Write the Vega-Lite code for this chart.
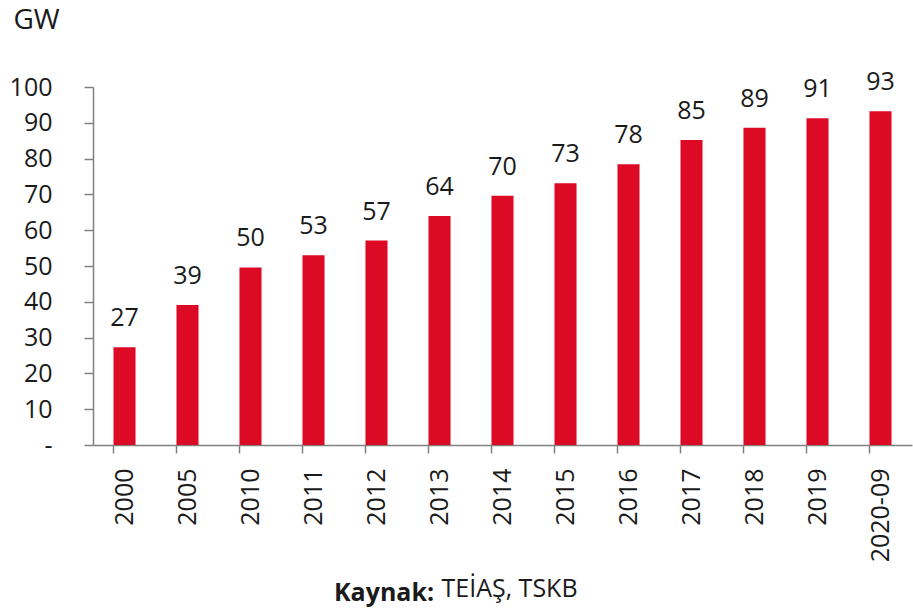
{
  "$schema": "https://vega.github.io/schema/vega-lite/v6.json",
  "width": 819,
  "height": 358,
  "autosize": "none",
  "padding": {"left": 93, "top": 87, "right": 1, "bottom": 167},
  "background": "white",
  "config": {
    "view": {"stroke": null},
    "font": "Open Sans",
    "text": {"font": "Open Sans"}
  },
  "title": {
    "text": "Kaynak:",
    "orient": "bottom",
    "anchor": "start",
    "frame": "group",
    "fontWeight": "bold",
    "font": "Open Sans",
    "fontSize": 25,
    "color": "#1a1a1a",
    "dx": 241,
    "dy": -20,
    "offset": 0
  },
  "data": {
    "values": [
      {"year": "2000", "gw": 27.3},
      {"year": "2005", "gw": 39.1},
      {"year": "2010", "gw": 49.6},
      {"year": "2011", "gw": 53.0},
      {"year": "2012", "gw": 57.1},
      {"year": "2013", "gw": 64.0},
      {"year": "2014", "gw": 69.6},
      {"year": "2015", "gw": 73.1},
      {"year": "2016", "gw": 78.4},
      {"year": "2017", "gw": 85.2},
      {"year": "2018", "gw": 88.6},
      {"year": "2019", "gw": 91.3},
      {"year": "2020-09", "gw": 93.2}
    ]
  },
  "encoding": {
    "x": {
      "field": "year",
      "type": "ordinal",
      "sort": null,
      "scale": {"paddingInner": 0.65, "paddingOuter": 0.325},
      "axis": {
        "title": "TEİAŞ, TSKB",
        "titleFont": "Open Sans",
        "titleFontSize": 25,
        "titleFontWeight": "normal",
        "titleColor": "#1a1a1a",
        "titleX": 348,
        "titleY": 151,
        "titleAlign": "left",
        "titleBaseline": "alphabetic",
        "labelAngle": -90,
        "labelFont": "Open Sans",
        "labelFontSize": 25,
        "labelColor": "#1a1a1a",
        "labelPadding": 15,
        "bandPosition": 0,
        "tickSize": 8,
        "tickColor": "#808080",
        "domainColor": "#808080",
        "domainWidth": 1.5,
        "tickWidth": 1.5
      }
    },
    "y": {
      "field": "gw",
      "type": "quantitative",
      "scale": {"domain": [0, 100]},
      "axis": {
        "values": [0, 10, 20, 30, 40, 50, 60, 70, 80, 90, 100],
        "labelExpr": "datum.value === 0 ? '-\u00a0\u00a0\u00a0\u00a0' : datum.label",
        "grid": false,
        "title": "GW",
        "titleAngle": 0,
        "titleX": -80,
        "titleY": -59,
        "titleAlign": "left",
        "titleBaseline": "alphabetic",
        "titleFont": "Open Sans",
        "titleFontSize": 28,
        "titleFontWeight": "normal",
        "titleColor": "#1a1a1a",
        "labelFont": "Open Sans",
        "labelFontSize": 25,
        "labelColor": "#1a1a1a",
        "labelPadding": 32,
        "tickSize": 9,
        "tickColor": "#808080",
        "domainColor": "#808080",
        "domainWidth": 1.5,
        "tickWidth": 1.5
      }
    }
  },
  "layer": [
    {"mark": {"type": "bar", "color": "#DC0A24"}},
    {
      "mark": {"type": "text", "baseline": "alphabetic", "dy": -21, "fontSize": 25, "color": "#1a1a1a", "font": "Open Sans"},
      "encoding": {"text": {"field": "gw", "type": "quantitative", "format": ".0f"}}
    }
  ]
}
